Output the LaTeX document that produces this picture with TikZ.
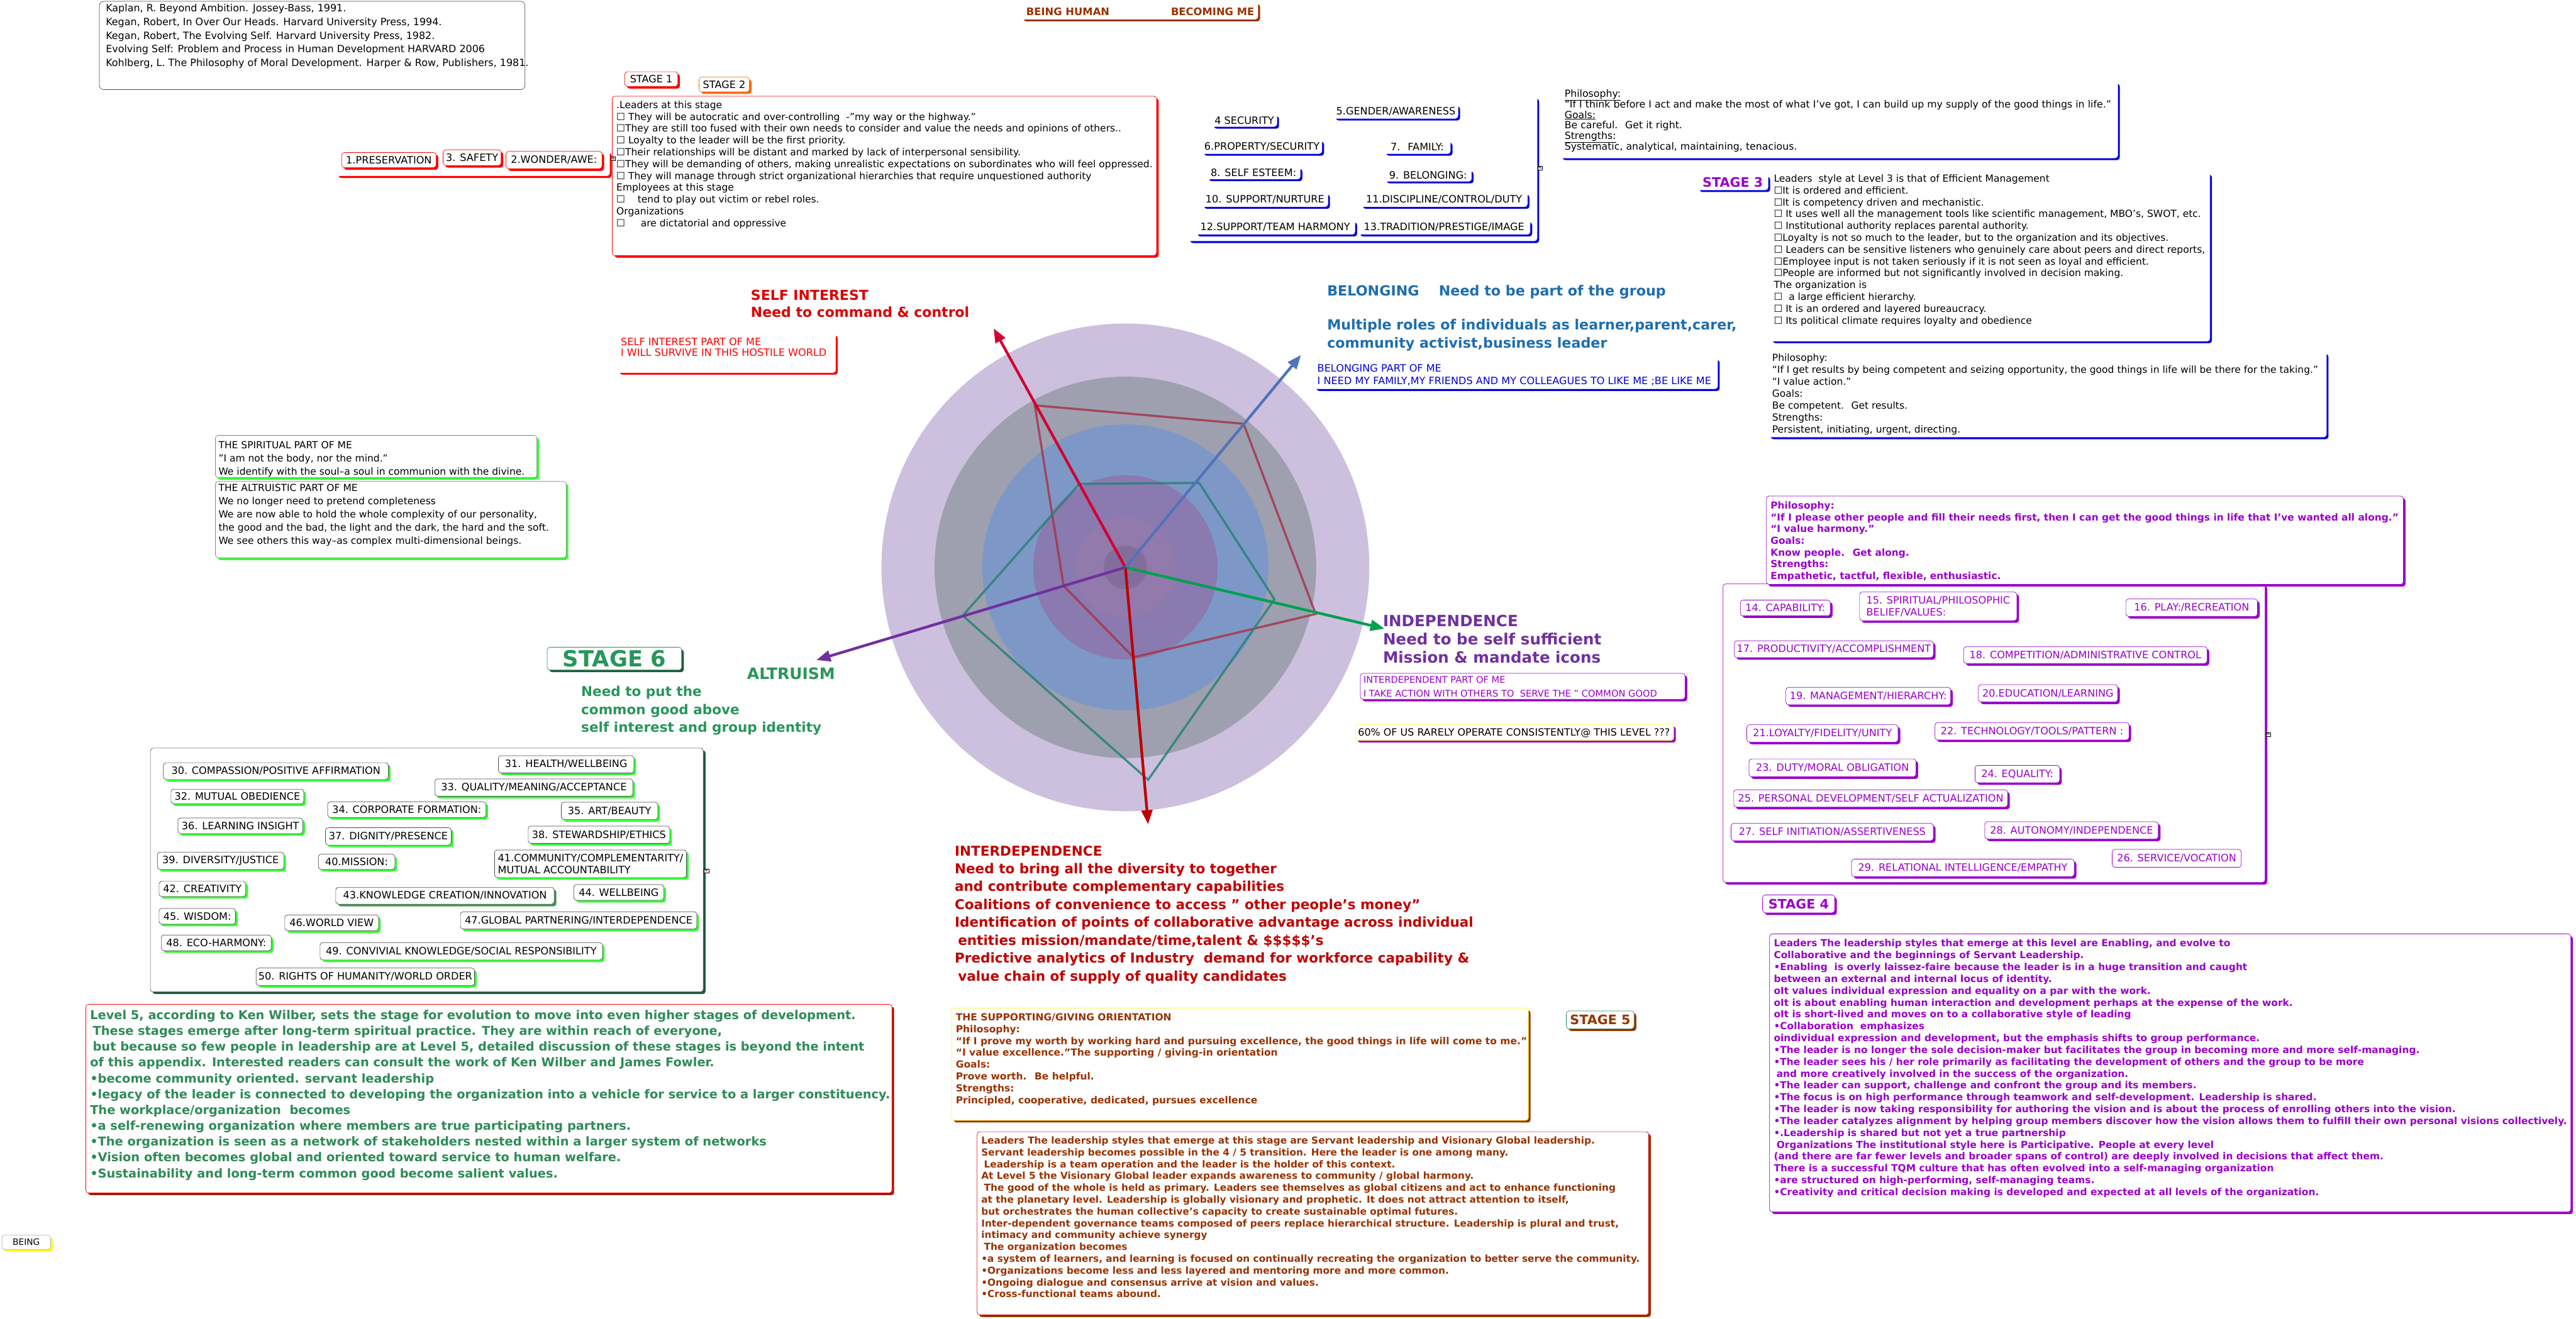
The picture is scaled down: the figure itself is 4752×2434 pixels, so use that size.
\documentclass[tikz,border=0pt]{standalone}
\usepackage{fontspec}
\setmainfont{DejaVu Sans}
\usetikzlibrary{shadows,arrows.meta}
\newcommand\fsz[2]{\fontsize{#1}{#2}\selectfont}
\newcommand\tl[1]{\begin{tabular}[t]{@{}l@{}}#1\end{tabular}}
\definecolor{cRed}{RGB}{255,0,0}
\definecolor{cOrange}{RGB}{255,102,0}
\definecolor{cBlue}{RGB}{0,0,220}
\definecolor{cPurp}{RGB}{153,0,204}
\definecolor{cGreen}{RGB}{51,255,51}
\definecolor{cBrown}{RGB}{153,51,0}
\definecolor{cLevel}{RGB}{46,139,87}
\definecolor{cDkGreen}{RGB}{30,90,60}
\definecolor{cSelf}{RGB}{220,0,0}
\definecolor{cBel}{RGB}{30,110,175}
\definecolor{cInd}{RGB}{112,48,160}
\definecolor{cInter}{RGB}{192,0,0}
\definecolor{cAlt}{RGB}{40,150,90}
\definecolor{cYellow}{RGB}{255,255,0}
\definecolor{cDkRed}{RGB}{170,20,0}
\definecolor{rA}{RGB}{205,192,222}
\definecolor{rB}{RGB}{158,160,176}
\definecolor{rC}{RGB}{125,152,198}
\definecolor{rD}{RGB}{138,122,176}
\definecolor{rE}{RGB}{146,122,172}
\tikzset{
  T/.style={anchor=base west, inner sep=0pt},
  frame/.style 2 args={draw=#1, fill=white, rounded corners=5pt, line width=0.8pt,
    general shadow={fill=#2, shadow xshift=4pt, shadow yshift=-4pt}, anchor=north west},
  lab/.style 2 args={frame={#1}{#2}, font=\fsz{18.7}{22}, inner sep=2pt},
  redlab/.style={lab={cRed}{cRed}},
  bluelab/.style={lab={white}{cBlue}},
  purlab/.style={lab={cPurp}{cPurp}, text=cPurp},
  grnlab/.style={lab={black!70}{cGreen}},
  marker/.style={draw, fill=white, inner sep=0.5pt, font=\fsz{12}{12}},
  axis/.style={line width=5pt, -{Triangle[length=26pt,width=20pt]}},
}
\begin{document}
\begin{tikzpicture}[x=1pt,y=-1pt]
\useasboundingbox (0,0) rectangle (4752,2434);

% ---------------- radar ----------------
\coordinate (C) at (2076,1047);
\fill[rA] (C) circle (450);
\fill[rB] (C) circle (352);
\fill[rC] (C) circle (264);
\fill[rD] (C) circle (170);
\fill[rE] (C) circle (92);
\fill[rE!90!black] (C) circle (40);
\coordinate (tR) at (1833,606);
\coordinate (tB) at (2400,655);
\coordinate (tG) at (2554,1160);
\coordinate (tD) at (2118,1521);
\coordinate (tP) at (1506,1218);
\draw[line width=4pt, color={rgb,255:red,165;green,55;blue,75}, opacity=0.85]
  (1909,748) -- (2294,782) -- (2427,1133) -- (2091,1213) -- (1962,1081) -- cycle;
\draw[line width=4pt, color={rgb,255:red,40;green,130;blue,120}, opacity=0.85]
  (1991,893) -- (2212,891) -- (2351,1106) -- (2118,1439) -- (1776,1136) -- cycle;
\draw[axis, color={rgb,255:red,210;green,0;blue,50}] (C) -- (tR);
\draw[axis, color={rgb,255:red,80;green,115;blue,185}] (C) -- (tB);
\draw[axis, color={rgb,255:red,0;green,160;blue,80}] (C) -- (tG);
\draw[axis, color={rgb,255:red,190;green,0;blue,0}] (C) -- (tD);
\draw[axis, color={rgb,255:red,112;green,48;blue,160}] (C) -- (tP);

% ---------------- title / refs ----------------
\node[frame={white}{cBrown}, minimum width=436, minimum height=32] (title) at (1884,3) {};
\node[T, font=\bfseries\fsz{19}{22}, text=cBrown] (t1) at (1893,29) {BEING HUMAN};
\node[T, font=\bfseries\fsz{19}{22}, text=cBrown] (t2) at (2160,29) {BECOMING ME};

\node[draw=black!70, fill=white, rounded corners=8pt, line width=0.8pt, anchor=north west,
  minimum width=785, minimum height=163] (refs) at (183,2) {};
\node[T, font=\fsz{18.5}{25}] (refstxt) at (195,22) {\tl{Kaplan, R. Beyond Ambition. Jossey-Bass, 1991.\\
Kegan, Robert, In Over Our Heads. Harvard University Press, 1994.\\
Kegan, Robert, The Evolving Self. Harvard University Press, 1982.\\
Evolving Self: Problem and Process in Human Development HARVARD 2006\\
Kohlberg, L. The Philosophy of Moral Development. Harper \& Row, Publishers, 1981.}};

% ---------------- stage 1 / 2 ----------------
\node[redlab, minimum width=98, minimum height=27] (st1) at (1152,132) {STAGE 1};
\node[lab={cOrange}{cOrange}, minimum width=93, minimum height=27] (st2) at (1289,142) {STAGE 2};
\node[frame={white}{cRed}, minimum width=504, minimum height=46] (redgrp) at (620,278) {};
\node[redlab, minimum width=174, minimum height=28] (pres) at (630,281) {1.PRESERVATION};
\node[redlab, minimum width=107, minimum height=29] (safe) at (817,276) {3. SAFETY};
\node[redlab, minimum width=177, minimum height=32] (wond) at (933,279) {2.WONDER/AWE:};
\node[frame={cRed}{cRed}, minimum width=1004, minimum height=294] (s1box) at (1129,177) {};
\node[marker] (m1) at (1131,293) {«};
\node[T, font=\fsz{18}{21.8}] (s1txt) at (1137,200) {\tl{.Leaders at this stage\\
☐ They will be autocratic and over-controlling \ -"my way or the highway."\\
☐They are still too fused with their own needs to consider and value the needs and opinions of others..\\
☐ Loyalty to the leader will be the first priority.\\
☐Their relationships will be distant and marked by lack of interpersonal sensibility.\\
☐They will be demanding of others, making unrealistic expectations on subordinates who will feel oppressed.\\
☐ They will manage through strict organizational hierarchies that require unquestioned authority\\
Employees at this stage\\
☐ \ \ \ tend to play out victim or rebel roles.\\
Organizations\\
☐ \ \ \ \ are dictatorial and oppressive}};

% ---------------- blue group ----------------
\node[frame={white}{cBlue}, minimum width=644, minimum height=266] (bluegrp) at (2191,178) {};
\node[bluelab, minimum width=120, minimum height=23] (b4) at (2235,210) {4 SECURITY};
\node[bluelab, minimum width=229, minimum height=26] (b5) at (2460,192) {5.GENDER/AWARENESS};
\node[bluelab, minimum width=221, minimum height=26] (b6) at (2217,257) {6.PROPERTY/SECURITY};
\node[bluelab, minimum width=122, minimum height=24] (b7) at (2553,259) {7. \ FAMILY:};
\node[bluelab, minimum width=172, minimum height=23] (b8) at (2226,307) {8. SELF ESTEEM:};
\node[bluelab, minimum width=160, minimum height=22] (b9) at (2554,312) {9. BELONGING:};
\node[bluelab, minimum width=232, minimum height=26] (b10) at (2217,355) {10. SUPPORT/NURTURE};
\node[bluelab, minimum width=307, minimum height=26] (b11) at (2510,355) {11.DISCIPLINE/CONTROL/DUTY};
\node[bluelab, minimum width=294, minimum height=26] (b12) at (2205,406) {12.SUPPORT/TEAM HARMONY};
\node[bluelab, minimum width=317, minimum height=26] (b13) at (2505,406) {13.TRADITION/PRESTIGE/IMAGE};
\node[marker] (m2) at (2841,310) {«};

% ---------------- philosophy 1 ----------------
\node[frame={white}{cBlue}, minimum width=1028, minimum height=141] (ph1) at (2878,150) {};
\node[T, font=\fsz{18.3}{18.8}] (ph1txt) at (2886,179) {\tl{\underline{Philosophy:}\\
“If I think before I act and make the most of what I’ve got, I can build up my supply of the good things in life.”\\
\underline{Goals:}\\
Be careful. \ Get it right.\\
\underline{Strengths:}\\
Systematic, analytical, maintaining, tenacious.}};

% ---------------- stage 3 ----------------
\node[frame={white}{cBlue}, minimum width=130, minimum height=28, font=\bfseries\fsz{24}{26}, text=cPurp, inner sep=2pt] (st3) at (3131,322) {STAGE 3};
\node[frame={white}{cBlue}, minimum width=810, minimum height=311] (s3box) at (3266,318) {};
\node[T, font=\fsz{18}{21.8}] (s3txt) at (3272,336) {\tl{Leaders \ style at Level 3 is that of Efficient Management\\
☐It is ordered and efficient.\\
☐It is competency driven and mechanistic.\\
☐ It uses well all the management tools like scientific management, MBO’s, SWOT, etc.\\
☐ Institutional authority replaces parental authority.\\
☐Loyalty is not so much to the leader, but to the organization and its objectives.\\
☐ Leaders can be sensitive listeners who genuinely care about peers and direct reports,\\
☐Employee input is not taken seriously if it is not seen as loyal and efficient.\\
☐People are informed but not significantly involved in decision making.\\
The organization is\\
☐ \ a large efficient hierarchy.\\
☐ It is an ordered and layered bureaucracy.\\
☐ Its political climate requires loyalty and obedience}};

\node[frame={white}{cBlue}, minimum width=1029, minimum height=157] (ph2) at (3262,649) {};
\node[T, font=\fsz{18}{22}] (ph2txt) at (3269,667) {\tl{Philosophy:\\
“If I get results by being competent and seizing opportunity, the good things in life will be there for the taking.”\\
“I value action.”\\
Goals:\\
Be competent. \ Get results.\\
Strengths:\\
Persistent, initiating, urgent, directing.}};

% ---------------- stage 4 ----------------
\node[frame={cPurp}{cPurp}, minimum width=1000, minimum height=551] (pgrp) at (3178,1077) {};
\node[frame={cPurp}{cPurp}, minimum width=1175, minimum height=163] (ph3) at (3258,915) {};
\node[T, font=\bfseries\fsz{17.9}{21.7}, text=cPurp] (ph3txt) at (3266,939) {\tl{Philosophy:\\
“If I please other people and fill their needs first, then I can get the good things in life that I’ve wanted all along.”\\
“I value harmony.”\\
Goals:\\
Know people. \ Get along.\\
Strengths:\\
Empathetic, tactful, flexible, enthusiastic.}};
\node[purlab, minimum width=166, minimum height=29] (p14) at (3210,1107) {14. CAPABILITY:};
\node[purlab, minimum width=290, minimum height=53, align=left] (p15) at (3430,1092) {15. SPIRITUAL/PHILOSOPHIC\\BELIEF/VALUES:};
\node[purlab, minimum width=243, minimum height=32] (p16) at (3921,1105) {16. PLAY:/RECREATION};
\node[purlab, minimum width=367, minimum height=31] (p17) at (3199,1182) {17. PRODUCTIVITY/ACCOMPLISHMENT};
\node[purlab, minimum width=449, minimum height=31] (p18) at (3622,1193) {18. COMPETITION/ADMINISTRATIVE CONTROL};
\node[purlab, minimum width=304, minimum height=32] (p19) at (3294,1268) {19. MANAGEMENT/HIERARCHY:};
\node[purlab, minimum width=257, minimum height=32] (p20) at (3649,1263) {20.EDUCATION/LEARNING};
\node[purlab, minimum width=279, minimum height=32] (p21) at (3222,1337) {21.LOYALTY/FIDELITY/UNITY};
\node[purlab, minimum width=358, minimum height=32] (p22) at (3569,1333) {22. TECHNOLOGY/TOOLS/PATTERN :};
\node[purlab, minimum width=308, minimum height=33] (p23) at (3226,1400) {23. DUTY/MORAL OBLIGATION};
\node[purlab, minimum width=156, minimum height=32] (p24) at (3643,1412) {24. EQUALITY:};
\node[purlab, minimum width=505, minimum height=32] (p25) at (3198,1457) {25. PERSONAL DEVELOPMENT/SELF ACTUALIZATION};
\node[purlab, minimum width=373, minimum height=32] (p27) at (3193,1519) {27. SELF INITIATION/ASSERTIVENESS};
\node[purlab, minimum width=320, minimum height=32] (p28) at (3661,1516) {28. AUTONOMY/INDEPENDENCE};
\node[draw=cPurp, fill=white, rounded corners=5pt, line width=0.8pt, anchor=north west, text=cPurp,
  font=\fsz{18.7}{22}, inner sep=2pt, minimum width=238, minimum height=33] (p26) at (3896,1567) {26. SERVICE/VOCATION};
\node[purlab, minimum width=411, minimum height=32] (p29) at (3415,1585) {29. RELATIONAL INTELLIGENCE/EMPATHY};
\node[marker] (m3) at (4184,1355) {«};
\node[frame={cPurp}{cPurp}, minimum width=133, minimum height=33, font=\bfseries\fsz{24}{26}, text=cPurp, inner sep=2pt] (st4) at (3251,1651) {STAGE 4};

\node[frame={cPurp}{cPurp}, minimum width=1478, minimum height=513] (s4box) at (3264,1723) {};
\node[T, font=\bfseries\fsz{17.9}{21.85}, text=cPurp] (s4txt) at (3272,1747) {\tl{Leaders The leadership styles that emerge at this level are Enabling, and evolve to\\
Collaborative and the beginnings of Servant Leadership.\\
•Enabling \ is overly laissez-faire because the leader is in a huge transition and caught\\
between an external and internal locus of identity.\\
oIt values individual expression and equality on a par with the work.\\
oIt is about enabling human interaction and development perhaps at the expense of the work.\\
oIt is short-lived and moves on to a collaborative style of leading\\
•Collaboration \ emphasizes\\
oindividual expression and development, but the emphasis shifts to group performance.\\
•The leader is no longer the sole decision-maker but facilitates the group in becoming more and more self-managing.\\
•The leader sees his / her role primarily as facilitating the development of others and the group to be more\\
\hspace*{5pt}and more creatively involved in the success of the organization.\\
•The leader can support, challenge and confront the group and its members.\\
•The focus is on high performance through teamwork and self-development. Leadership is shared.\\
•The leader is now taking responsibility for authoring the vision and is about the process of enrolling others into the vision.\\
•The leader catalyzes alignment by helping group members discover how the vision allows them to fulfill their own personal visions collectively.\\
•.Leadership is shared but not yet a true partnership\\
\hspace*{5pt}Organizations The institutional style here is Participative. People at every level\\
(and there are far fewer levels and broader spans of control) are deeply involved in decisions that affect them.\\
There is a successful TQM culture that has often evolved into a self-managing organization\\
•are structured on high-performing, self-managing teams.\\
•Creativity and critical decision making is developed and expected at all levels of the organization.}};

% ---------------- stage 6 ----------------
\node[frame={black!70}{cDkGreen}, minimum width=1020, minimum height=450] (ggrp) at (277,1380) {};
\node[grnlab, minimum width=415, minimum height=31] (g30) at (301,1407) {30. COMPASSION/POSITIVE AFFIRMATION};
\node[grnlab, minimum width=250, minimum height=32] (g31) at (919,1394) {31. HEALTH/WELLBEING};
\node[grnlab, minimum width=365, minimum height=32] (g33) at (802,1437) {33. QUALITY/MEANING/ACCEPTANCE};
\node[grnlab, minimum width=245, minimum height=27] (g32) at (315,1456) {32. MUTUAL OBEDIENCE};
\node[grnlab, minimum width=292, minimum height=29] (g34) at (604,1479) {34. CORPORATE FORMATION:};
\node[grnlab, minimum width=178, minimum height=32] (g35) at (1035,1480) {35. ART/BEAUTY};
\node[grnlab, minimum width=230, minimum height=29] (g36) at (328,1509) {36. LEARNING INSIGHT};
\node[grnlab, minimum width=232, minimum height=32] (g37) at (600,1527) {37. DIGNITY/PRESENCE};
\node[grnlab, minimum width=261, minimum height=32] (g38) at (974,1524) {38. STEWARDSHIP/ETHICS};
\node[grnlab, minimum width=233, minimum height=32] (g39) at (290,1572) {39. DIVERSITY/JUSTICE};
\node[grnlab, minimum width=141, minimum height=28] (g40) at (587,1576) {40.MISSION:};
\node[grnlab, minimum width=354, minimum height=51, align=left] (g41) at (912,1568) {41.COMMUNITY/COMPLEMENTARITY/\\MUTUAL ACCOUNTABILITY};
\node[grnlab, minimum width=160, minimum height=28] (g42) at (293,1626) {42. CREATIVITY};
\node[lab={black!70}{cDkGreen!60!cGreen!70!gray}, minimum width=403, minimum height=31] (g43) at (619,1637) {43.KNOWLEDGE CREATION/INNOVATION};
\node[grnlab, minimum width=166, minimum height=29] (g44) at (1058,1632) {44. WELLBEING};
\node[grnlab, minimum width=141, minimum height=29] (g45) at (293,1676) {45. WISDOM:};
\node[grnlab, minimum width=173, minimum height=29] (g46) at (525,1688) {46.WORLD VIEW};
\node[grnlab, minimum width=436, minimum height=32] (g47) at (849,1682) {47.GLOBAL PARTNERING/INTERDEPENDENCE};
\node[grnlab, minimum width=203, minimum height=29] (g48) at (297,1725) {48. ECO-HARMONY:};
\node[grnlab, minimum width=521, minimum height=32] (g49) at (590,1739) {49. CONVIVIAL KNOWLEDGE/SOCIAL RESPONSIBILITY};
\node[grnlab, minimum width=403, minimum height=32] (g50) at (472,1786) {50. RIGHTS OF HUMANITY/WORLD ORDER};
\node[marker] (m4) at (1303,1607) {«};

\node[frame={cAlt}{cDkGreen}, minimum width=248, minimum height=42, font=\bfseries\fsz{41}{42}, text=cAlt, inner sep=1pt] (st6) at (1009,1194) {STAGE 6};

% ---------------- spiritual / altruistic ----------------
\node[frame={black!50}{cGreen}, minimum width=593, minimum height=78] (spbox) at (397,803) {};
\node[T, font=\fsz{18}{24}] (sptxt) at (403,828) {\tl{THE SPIRITUAL PART OF ME\\
"I am not the body, nor the mind."\\
We identify with the soul--a soul in communion with the divine.}};
\node[frame={black!50}{cGreen}, minimum width=647, minimum height=141] (albox) at (397,888) {};
\node[T, font=\fsz{18}{24.3}] (altxt) at (403,907) {\tl{THE ALTRUISTIC PART OF ME\\
We no longer need to pretend completeness\\
We are now able to hold the whole complexity of our personality,\\
the good and the bad, the light and the dark, the hard and the soft.\\
We see others this way--as complex multi-dimensional beings.}};

% ---------------- center labels ----------------
\node[T, font=\bfseries\fsz{25.5}{31}, text=cSelf] (selfl) at (1385,554) {\tl{SELF INTEREST\\Need to command \& control}};
\node[frame={white}{cRed}, minimum width=402, minimum height=72] (selfbox) at (1139,615) {};
\node[T, font=\fsz{18.7}{20.5}, text=cRed] (selftxt) at (1145,637) {\tl{SELF INTEREST PART OF ME\\I WILL SURVIVE IN THIS HOSTILE WORLD}};

\node[T, font=\bfseries\fsz{25.8}{33}, text=cBel] (bell) at (2448,546) {BELONGING};
\node[T, font=\bfseries\fsz{25.8}{33}, text=cBel] (bel2) at (2654,546) {Need to be part of the group};
\node[T, font=\bfseries\fsz{25.8}{33}, text=cBel] (bel3) at (2448,609) {\tl{Multiple roles of individuals as learner,parent,carer,\\community activist,business leader}};
\node[frame={white}{cBlue}, minimum width=744, minimum height=57] (belbox) at (2424,660) {};
\node[T, font=\fsz{18.7}{24}, text=cBlue] (beltxt) at (2430,686) {\tl{BELONGING PART OF ME\\I NEED MY FAMILY,MY FRIENDS AND MY COLLEAGUES TO LIKE ME ;BE LIKE ME}};

\node[T, font=\bfseries\fsz{28.5}{33.5}, text=cInd] (indl) at (2551,1156) {\tl{INDEPENDENCE\\Need to be self sufficient\\Mission \& mandate icons}};
\node[frame={cPurp}{cPurp}, minimum width=599, minimum height=48] (indbox) at (2509,1242) {};
\node[T, font=\fsz{17}{25}, text=cPurp] (indtxt) at (2515,1261) {\tl{INTERDEPENDENT PART OF ME\\I TAKE ACTION WITH OTHERS TO \ SERVE THE " COMMON GOOD}};
\node[frame={cYellow}{cPurp}, minimum width=587, minimum height=30] (pctbox) at (2500,1336) {};
\node[T, font=\fsz{18.5}{22}] (pcttxt) at (2505,1358) {60\% OF US RARELY OPERATE CONSISTENTLY@ THIS LEVEL ???};

\node[T, font=\bfseries\fsz{25}{33}, text=cInter] (interl) at (1761,1579) {\tl{INTERDEPENDENCE\\
Need to bring all the diversity to together\\
and contribute complementary capabilities\\
Coalitions of convenience to access " other people's money"\\
Identification of points of collaborative advantage across individual\\
\hspace*{6pt}entities mission/mandate/time,talent \& \$\$\$\$\$'s\\
Predictive analytics of Industry \ demand for workforce capability \&\\
\hspace*{6pt}value chain of supply of quality candidates}};

\node[T, font=\bfseries\fsz{29}{33}, text=cAlt] (altl) at (1378,1254) {ALTRUISM};
\node[T, font=\bfseries\fsz{25}{33}, text=cAlt] (altl2) at (1072,1285) {\tl{Need to put the\\common good above\\self interest and group identity}};

% ---------------- level 5 / stage 5 ----------------
\node[frame={cRed}{cDkRed}, minimum width=1487, minimum height=348] (l5box) at (158,1853) {};
\node[T, font=\bfseries\fsz{22.5}{29.2}, text=cLevel] (l5txt) at (166,1881) {\tl{Level 5, according to Ken Wilber, sets the stage for evolution to move into even higher stages of development.\\
\hspace*{5pt}These stages emerge after long-term spiritual practice. They are within reach of everyone,\\
\hspace*{5pt}but because so few people in leadership are at Level 5, detailed discussion of these stages is beyond the intent\\
of this appendix. Interested readers can consult the work of Ken Wilber and James Fowler.\\
•become community oriented. servant leadership\\
•legacy of the leader is connected to developing the organization into a vehicle for service to a larger constituency.\\
The workplace/organization \ becomes\\
•a self-renewing organization where members are true participating partners.\\
•The organization is seen as a network of stakeholders nested within a larger system of networks\\
•Vision often becomes global and oriented toward service to human welfare.\\
•Sustainability and long-term common good become salient values.}};

\node[frame={cYellow}{cBrown}, minimum width=1064, minimum height=207] (supbox) at (1755,1860) {};
\node[T, font=\bfseries\fsz{18}{22}, text=cBrown] (suptxt) at (1763,1883) {\tl{THE SUPPORTING/GIVING ORIENTATION\\
Philosophy:\\
“If I prove my worth by working hard and pursuing excellence, the good things in life will come to me.”\\
“I value excellence.”The supporting / giving-in orientation\\
Goals:\\
Prove worth. \ Be helpful.\\
Strengths:\\
Principled, cooperative, dedicated, pursues excellence}};
\node[frame={cLevel}{cBrown}, minimum width=125, minimum height=33, font=\bfseries\fsz{24}{26}, text=cBrown, inner sep=2pt] (st5) at (2889,1865) {STAGE 5};

\node[frame={cRed!80!black}{cBrown}, minimum width=1239, minimum height=338] (s5box) at (1802,2088) {};
\node[T, font=\bfseries\fsz{17.8}{21.8}, text=cBrown] (s5txt) at (1810,2111) {\tl{Leaders The leadership styles that emerge at this stage are Servant leadership and Visionary Global leadership.\\
Servant leadership becomes possible in the 4 / 5 transition. Here the leader is one among many.\\
\hspace*{5pt}Leadership is a team operation and the leader is the holder of this context.\\
At Level 5 the Visionary Global leader expands awareness to community / global harmony.\\
\hspace*{5pt}The good of the whole is held as primary. Leaders see themselves as global citizens and act to enhance functioning\\
at the planetary level. Leadership is globally visionary and prophetic. It does not attract attention to itself,\\
but orchestrates the human collective’s capacity to create sustainable optimal futures.\\
Inter-dependent governance teams composed of peers replace hierarchical structure. Leadership is plural and trust,\\
intimacy and community achieve synergy\\
\hspace*{5pt}The organization becomes\\
•a system of learners, and learning is focused on continually recreating the organization to better serve the community.\\
•Organizations become less and less layered and mentoring more and more common.\\
•Ongoing dialogue and consensus arrive at vision and values.\\
•Cross-functional teams abound.}};

\node[frame={black!30}{cYellow}, minimum width=90, minimum height=26, font=\fsz{16}{18}, inner sep=2pt] (being) at (3,2279) {BEING};
\end{tikzpicture}
\end{document}
